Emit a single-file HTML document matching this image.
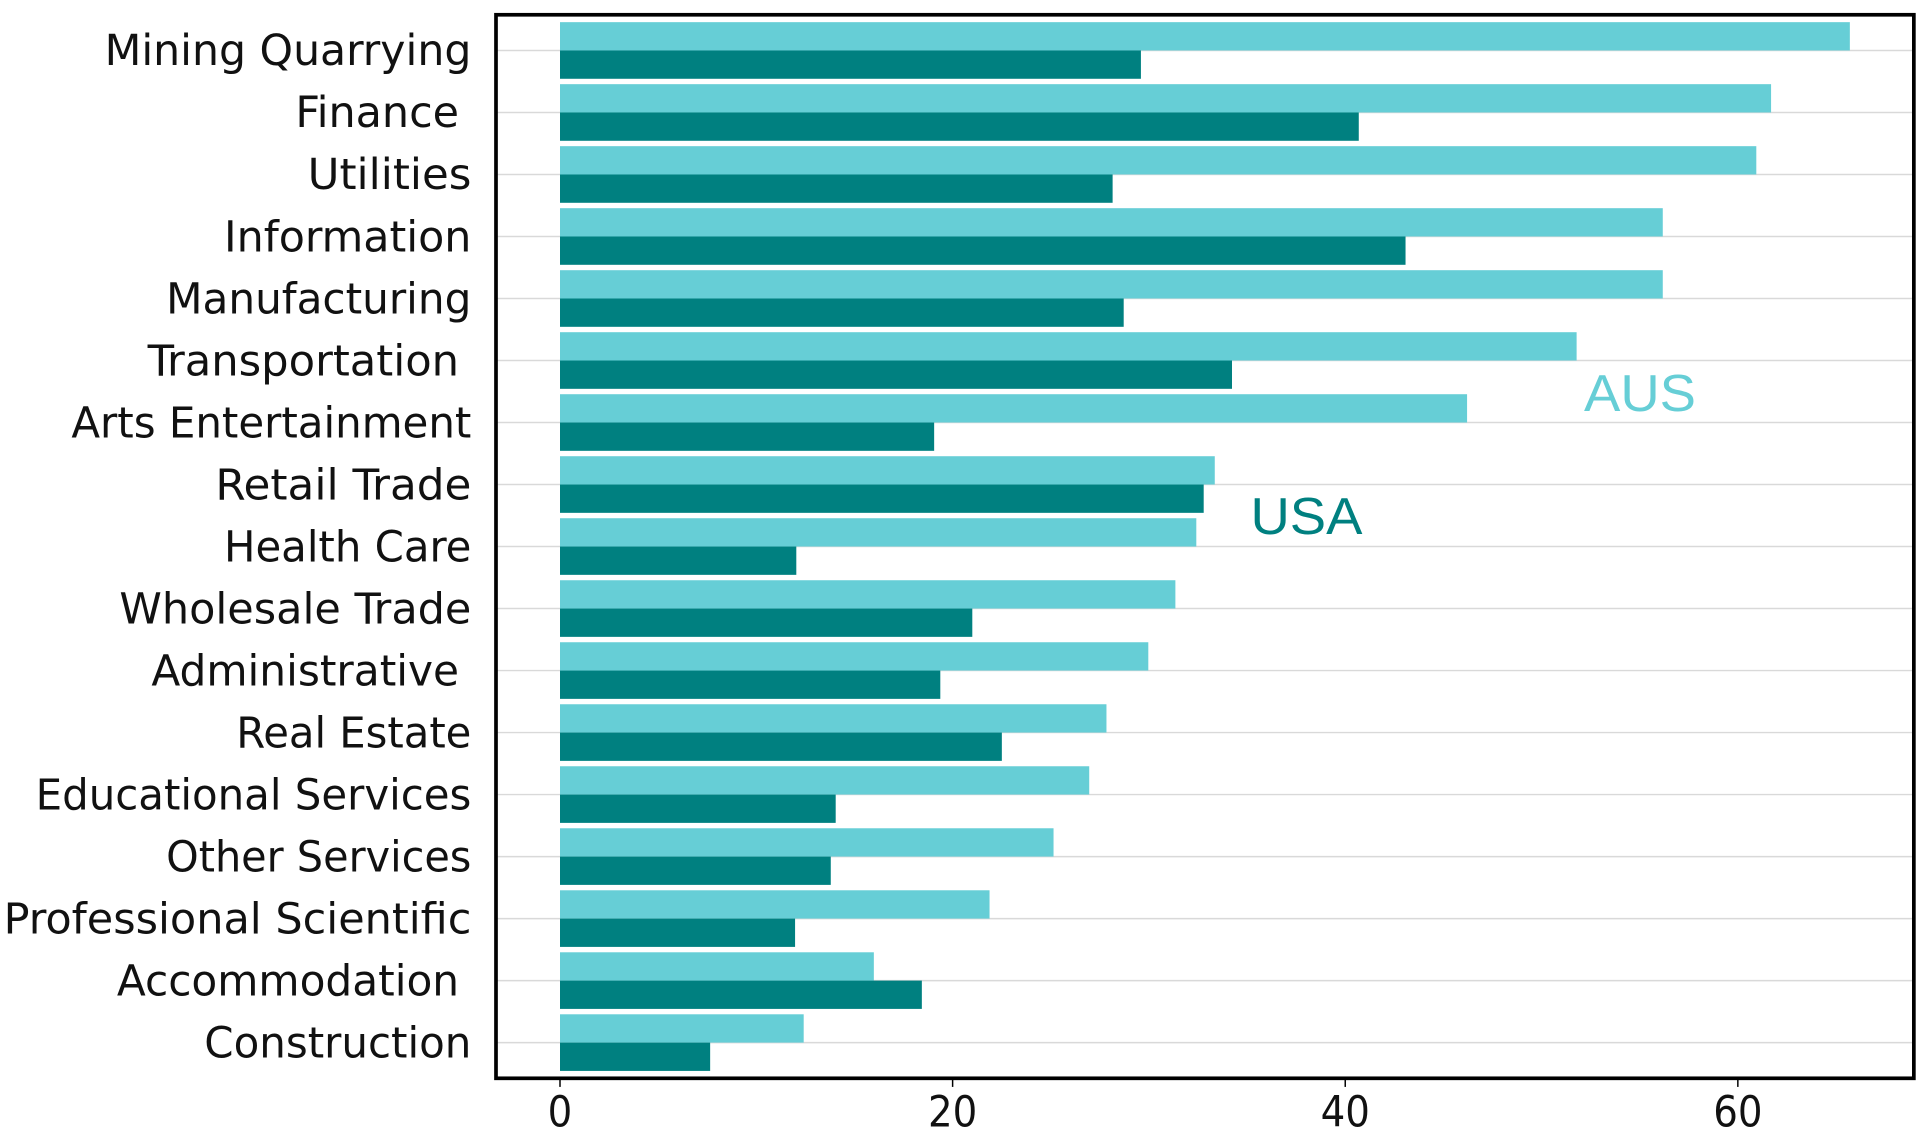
<!DOCTYPE html>
<html><head><style>html,body{margin:0;padding:0;background:#fff}svg{display:block}</style></head>
<body>
<svg width="1920" height="1130" viewBox="0 0 1560 918" preserveAspectRatio="none" xmlns="http://www.w3.org/2000/svg">
<rect width="1560" height="918" fill="#fff"/>
<g stroke="#d9d9d9" stroke-width="1.2" id="grid"></g>
<g id="bars"></g>
<rect x="403" y="12" width="1152" height="864" fill="none" stroke="#000" stroke-width="3"/>
<g stroke="#000" stroke-width="1.2">
<line x1="455" y1="876" x2="455" y2="883"/><line x1="774" y1="876" x2="774" y2="883"/><line x1="1093" y1="876" x2="1093" y2="883"/><line x1="1412" y1="876" x2="1412" y2="883"/>
</g>
<g font-family="'DejaVu Sans Condensed','Liberation Sans',sans-serif" font-size="35" fill="#111" text-anchor="middle">
<text x="455" y="915">0</text><text x="774" y="915">20</text><text x="1093" y="915">40</text><text x="1412" y="915">60</text>
</g>
<g id="labels" font-family="'DejaVu Sans Condensed','Liberation Sans',sans-serif" font-size="35" fill="#111"></g>
<text x="1287" y="334" font-family="'Liberation Sans',sans-serif" font-size="42" fill="#66ced6" textLength="91" lengthAdjust="spacingAndGlyphs">AUS</text>
<text x="1016" y="434" font-family="'Liberation Sans',sans-serif" font-size="42" fill="#008080" textLength="91" lengthAdjust="spacingAndGlyphs">USA</text>
<script>
var aus=[1503,1439,1427,1351,1351,1281,1192,987,972,955,933,899,885,856,804,710,653];
var usa=[927,1104,904,1142,913,1001,759,978,647,790,764,814,679,675,646,749,577];
var names=["Mining Quarrying","Finance","Utilities","Information","Manufacturing","Transportation","Arts Entertainment","Retail Trade","Health Care","Wholesale Trade","Administrative","Real Estate","Educational Services","Other Services","Professional Scientific","Accommodation","Construction"];
var lx=[85,240,250,182,135,120,58,175,182,97,123,192,29,135,3,95,166];
var rx=[383,373,383,383,383,373,383,383,383,383,373,383,383,383,383,373,383];
var ns="http://www.w3.org/2000/svg";
var g=document.getElementById("grid"),b=document.getElementById("bars"),l=document.getElementById("labels");
for(var i=0;i<17;i++){
 var c=41+i*50.375;
 var ln=document.createElementNS(ns,"line");ln.setAttribute("x1",403);ln.setAttribute("x2",1555);ln.setAttribute("y1",c);ln.setAttribute("y2",c);g.appendChild(ln);
 var r1=document.createElementNS(ns,"rect");r1.setAttribute("x",455);r1.setAttribute("y",c-23);r1.setAttribute("width",aus[i]-455);r1.setAttribute("height",23);r1.setAttribute("fill","#66ced6");b.appendChild(r1);
 var r2=document.createElementNS(ns,"rect");r2.setAttribute("x",455);r2.setAttribute("y",c);r2.setAttribute("width",usa[i]-455);r2.setAttribute("height",23);r2.setAttribute("fill","#008080");b.appendChild(r2);
 var t=document.createElementNS(ns,"text");t.setAttribute("x",lx[i]);t.setAttribute("y",c+12);t.setAttribute("textLength",rx[i]-lx[i]);t.setAttribute("lengthAdjust","spacingAndGlyphs");t.textContent=names[i];l.appendChild(t);
}
</script>
</svg>
</body></html>
